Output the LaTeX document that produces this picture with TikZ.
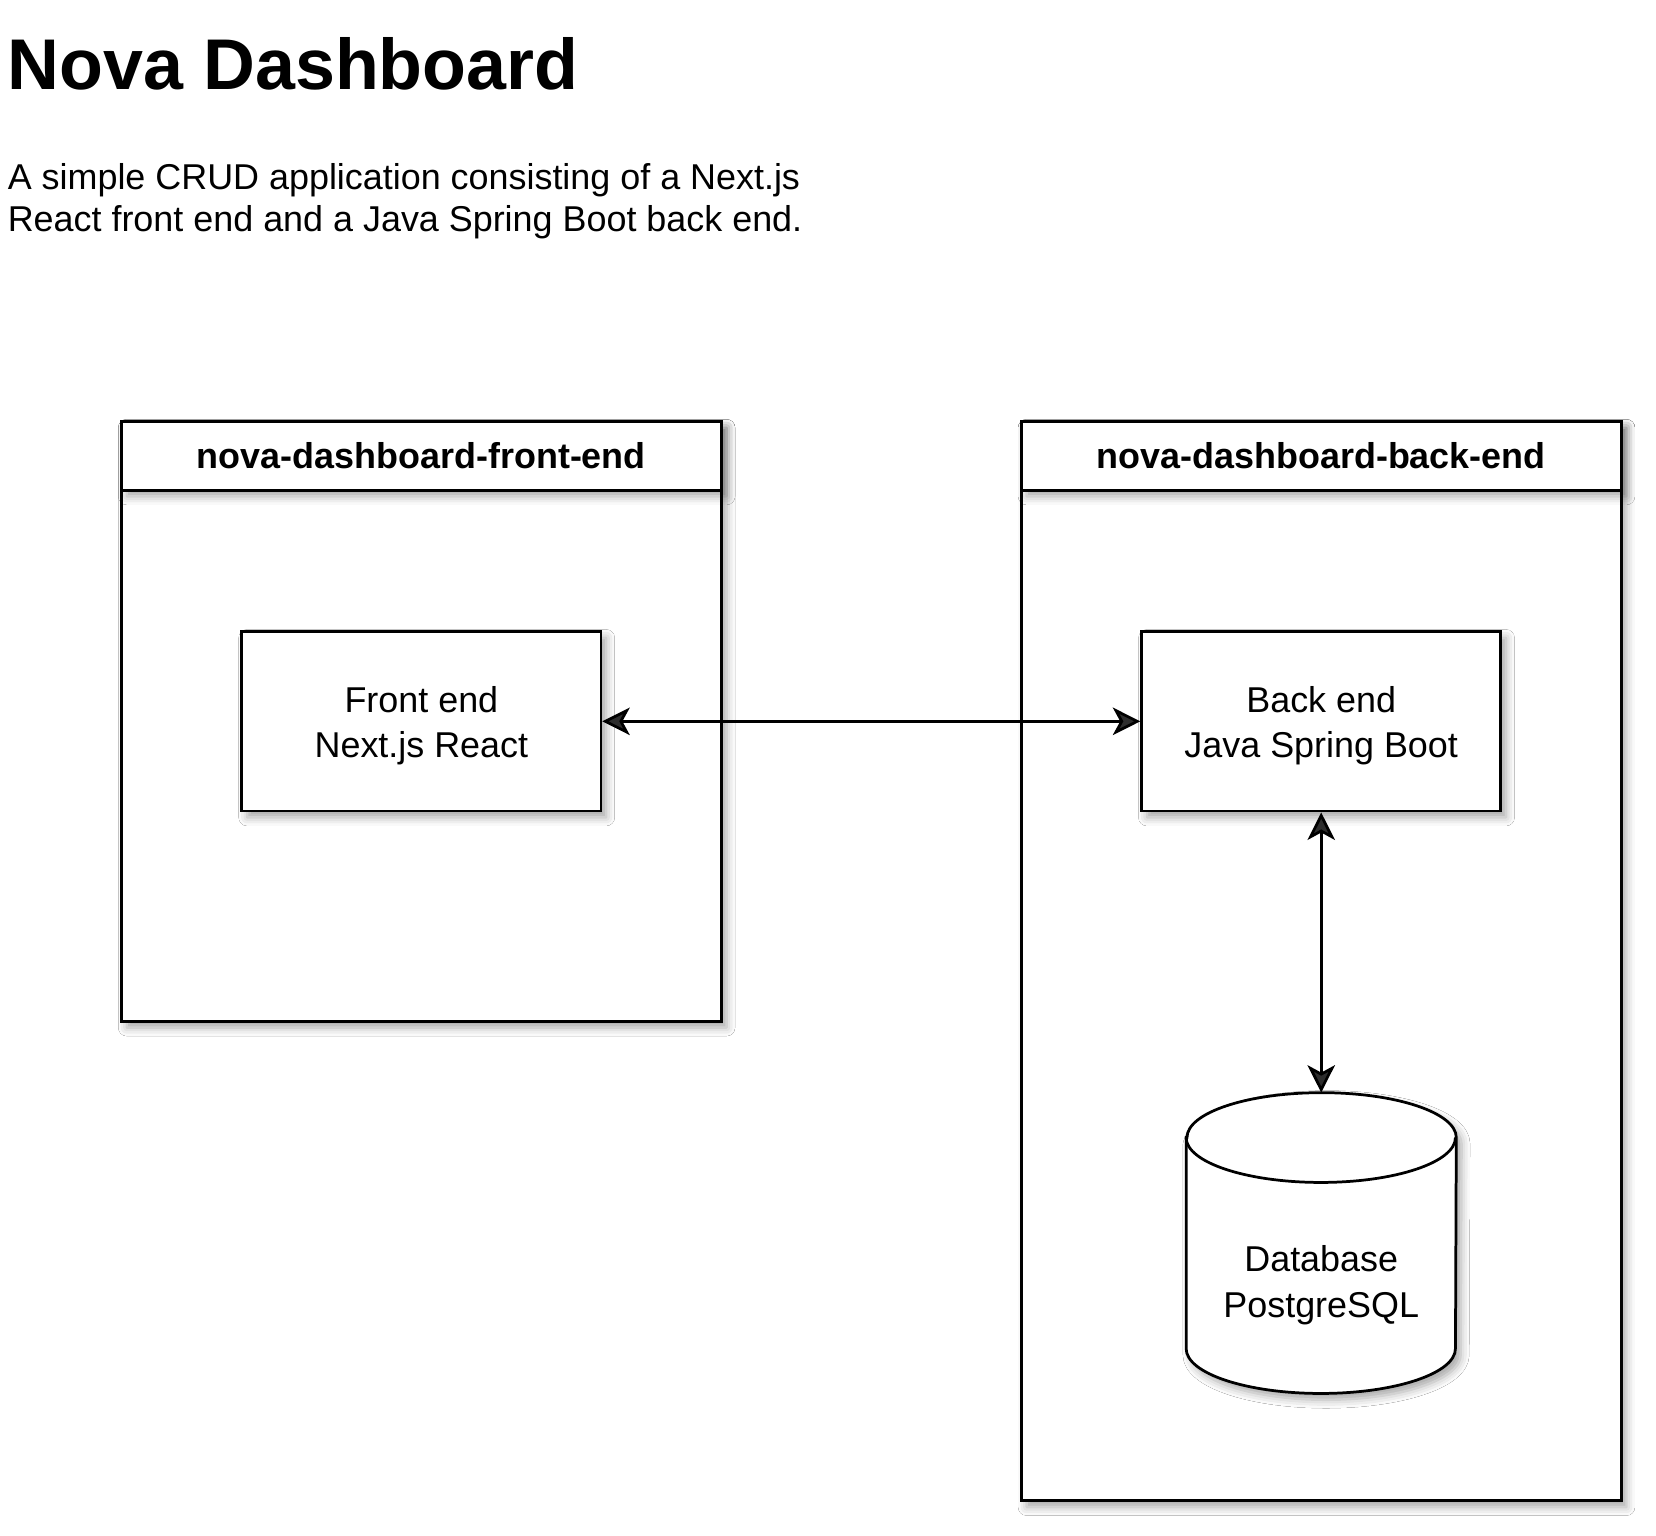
\documentclass[tikz,border=0pt]{standalone}
\usepackage{fontspec}
\setmainfont{Liberation Sans}
\usepackage{tikz}
\usetikzlibrary{arrows.meta,shadows.blur}

\begin{document}
\begin{tikzpicture}[
		x=0.5pt, y=-0.5pt,
		soft-shadow/.style={blur shadow={shadow xshift=2.5pt, shadow yshift=-3pt,
		shadow blur radius=4pt, shadow opacity=35}},
		lane/.style={draw, line width=1.4pt, fill=white, soft-shadow,
		minimum width=284pt, inner sep=0pt},
		lane-head/.style={draw, line width=1.4pt, fill=white, soft-shadow,
		minimum width=284pt, minimum height=32.5pt, inner sep=0pt,
		font=\fontsize{17}{20}\selectfont\bfseries},
		service/.style={draw, line width=1.3pt, fill=white, soft-shadow,
		minimum width=170pt, minimum height=85pt, align=center,
		font=\fontsize{17}{21.5}\selectfont},
		link/.style={line width=1.3pt,
		{Stealth[length=13pt,width=13pt,inset=3.5pt]}-{Stealth[length=13pt,width=13pt,inset=3.5pt]}},
		]

		\def\rx{63.75pt}
		\def\ry{21.25pt}
		\def\lift{\rule{0pt}{16.5pt}}

		\path[use as bounding box, fill=white] (0,0) rectangle (1568,1454);

		% heading
		\node[anchor=base west, inner sep=0pt, font=\fontsize{34}{40}\selectfont\bfseries]
		(heading) at (7,85) {Nova Dashboard};
		\node[anchor=north west, inner sep=0pt, align=left, font=\fontsize{17}{20}\selectfont]
		(summary) at (7,154) {A simple CRUD application consisting of a Next.js\\React front end and a Java Spring Boot back end.};

		% lanes
		\node[lane, minimum height=284pt] (front-lane) at (399,683) {};
		\node[lane-head, anchor=north] (front-head) at (front-lane.north) {nova-dashboard-front-end};
		\node[lane, minimum height=511pt] (back-lane) at (1251,910) {};
		\node[lane-head, anchor=north] (back-head) at (back-lane.north) {nova-dashboard-back-end};

		% services
		\node[service] (front-app) at (399,683) {\lift Front end\\Next.js React};
		\node[service] (back-app) at (1251,683) {\lift Back end\\Java Spring Boot};

		% database
		\node[minimum width=127.5pt, minimum height=142pt, inner sep=0pt] (db) at (1251,1177) {};
		\draw[line width=1.3pt, fill=white, soft-shadow]
		([yshift=-\ry]db.north west) -- ([yshift=\ry]db.south west)
		arc[start angle=180, end angle=360, x radius=\rx, y radius=\ry]
		-- ([yshift=-\ry]db.north east)
		arc[start angle=0, end angle=180, x radius=\rx, y radius=\ry] -- cycle;
		\draw[line width=1.3pt] ([yshift=-\ry]db.north west)
		arc[start angle=180, end angle=360, x radius=\rx, y radius=\ry];
		\node[align=center, font=\fontsize{17}{21.5}\selectfont]
		(db-label) at ([yshift=-20pt]db.center) {Database\\PostgreSQL};

		% links
		\draw[link] (front-app) -- (back-app);
		\draw[link] (back-app) -- (db.north);

	\end{tikzpicture}
\end{document}
